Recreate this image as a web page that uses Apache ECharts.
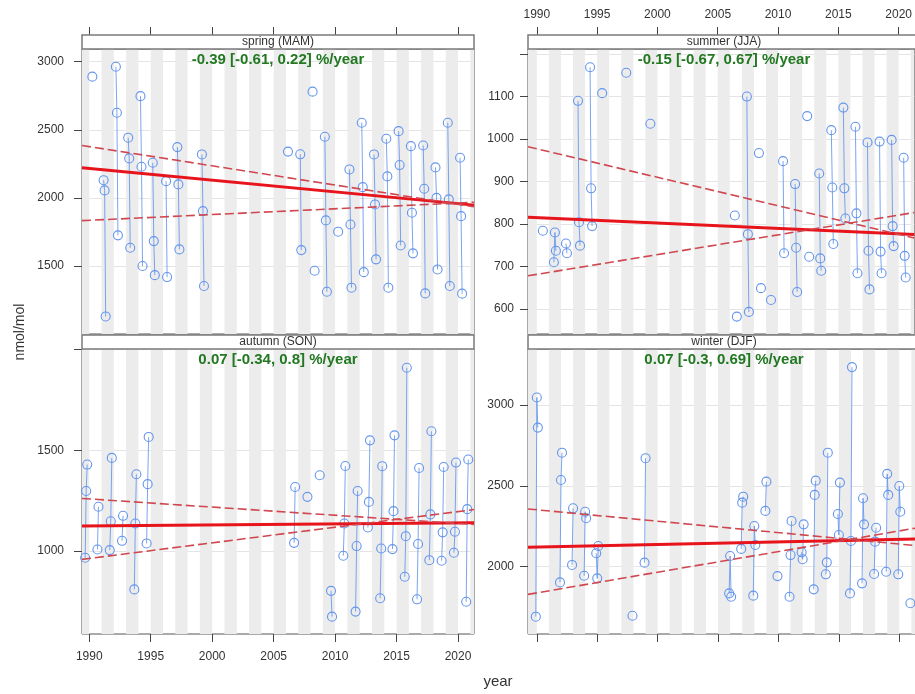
<!DOCTYPE html>
<html><head><meta charset="utf-8">
<script src="https://cdn.jsdelivr.net/npm/echarts@6/dist/echarts.min.js"></script>
<style>html,body{margin:0;padding:0;background:#fff}#c{width:915px;height:694px}</style>
</head><body><div id="c"></div>
<script>
// ---------- data ----------
const seasonNames = ['spring (MAM)', 'summer (JJA)', 'autumn (SON)', 'winter (DJF)'];
const trendTexts = ['-0.39 [-0.61, 0.22] %/year', '-0.15 [-0.67, 0.67] %/year', '0.07 [-0.34, 0.8] %/year', '0.07 [-0.3, 0.69] %/year'];
const xTickYears = [1990, 1995, 2000, 2005, 2010, 2015, 2020];
const stripeYears = [1989, 1991, 1993, 1995, 1997, 1999, 2001, 2003, 2005, 2007, 2009, 2011, 2013, 2015, 2017, 2019, 2021];

// month index (0 = Jan) of the three months of each season; -1 = December of previous year
const springMonths = [2, 3, 4];
const summerMonths = [5, 6, 7];
const autumnMonths = [8, 9, 10];
const winterMonths = [-1, 0, 1];

const springYears = [1990, 1991, 1992, 1993, 1994, 1995, 1996, 1997, 1999, 2006, 2007, 2008, 2009, 2010, 2011, 2012, 2013, 2014, 2015, 2016, 2017, 2018, 2019, 2020];
const springValues = [
  [null, 2890, null], [2130, 2055, 1130], [2963, 2625, 1725], [2442, 2290, 1634], [2747, 2229, 1500],
  [2258, 1683, 1433], [null, 2123, 1419], [2373, 2099, 1622], [2319, 1903, 1353], [2340, null, null],
  [2320, 1617, null], [2780, null, 1465], [2449, 1835, 1311], [null, 1752, null], [2209, 1805, 1341],
  [2552, 2079, 1455], [2319, 1952, 1549], [2434, 2158, 1341], [2490, 2241, 1651], [2380, 1891, 1593],
  [2385, 2067, 1299], [2224, 2000, 1475], [2552, 1989, 1353], [2295, 1866, 1297]
];

const summerYears = [1990, 1991, 1992, 1993, 1994, 1995, 1997, 1999, 2006, 2007, 2008, 2009, 2010, 2011, 2012, 2013, 2014, 2015, 2016, 2017, 2018, 2019, 2020];
const summerValues = [
  [null, 784, null], [710, 780, 737], [754, 731, null], [1090, 804, 749], [1169, 884, 795],
  [1108, null, null], [1156, null, null], [1036, null, null], [820, null, 582], [1100, 776, 593],
  [967, null, 649], [621, null, null], [948, 731, null], [894, 744, 640], [1054, null, 723],
  [919, 719, 690], [1021, 886, 753], [1074, 884, 813], [1029, 825, 684], [992, 737, 646],
  [994, 735, 684], [998, 795, 748], [956, 725, 674]
];

const autumnYears = [1989, 1990, 1991, 1992, 1993, 1994, 2006, 2007, 2008, 2009, 2010, 2011, 2012, 2013, 2014, 2015, 2016, 2017, 2018, 2019, 2020];
const autumnValues = [
  [967, 1298, 1429], [1008, 1220, null], [1005, 1148, 1462], [1051, 1175, null], [810, 1137, 1381],
  [1038, 1332, 1566], [1041, 1318, null], [null, 1269, null], [null, 1376, null], [803, 675, null],
  [977, 1137, 1422], [700, 1025, 1298], [1117, 1244, 1549], [766, 1013, 1421], [1010, 1198, 1574],
  [873, 1074, 1909], [761, 1035, 1412], [955, 1182, 1594], [952, 1093, 1417], [992, 1096, 1439],
  [749, 1208, 1454]
];

const winterYears = [1990, 1992, 1993, 1994, 1995, 1998, 1999, 2006, 2007, 2008, 2009, 2010, 2011, 2012, 2013, 2014, 2015, 2016, 2017, 2018, 2019, 2020, 2021];
const winterValues = [
  [1691, 3046, 2860], [1903, 2536, 2705], [2011, 2361, null], [1944, 2340, 2300], [2083, 1928, 2128],
  [1697, null, null], [2025, 2671, null], [1835, 2066, 1814], [2110, 2396, 2433], [1821, 2252, 2134],
  [2345, 2526, null], [1942, null, null], [1814, 2072, 2283], [2089, 2046, 2262], [1860, 2444, 2532],
  [1953, 2027, 2705], [2326, 2196, 2520], [1835, 2159, 3234], [1897, 2423, 2262], [1955, 2155, 2241],
  [1969, 2574, 2444], [1953, 2499, 2340], [1774, null, null]
];

// x ranges (decimal year) for left and right columns
const xRangeLeft = [1989.41, 2021.3];
const xRangeRight = [1989.27, 2021.3];

// y ranges and ticks
const springRange = [1001, 3093];
const summerRange = [541, 1212];
const autumnRange = [589, 2002];
const winterRange = [1584, 3346];
const springTicks = [1500, 2000, 2500, 3000];
const summerTicks = [600, 700, 800, 900, 1000, 1100, 1200];
const summerLabels = [600, 700, 800, 900, 1000, 1100];
const autumnTicks = [1000, 1500, 2000];
const autumnLabels = [1000, 1500];
const winterTicks = [2000, 2500, 3000];

// Theil-Sen trend lines: values at start / end of x range
const springTrendMid = [2222, 1947], springTrendUp = [2385, 1935], springTrendLo = [1833, 1968];
const summerTrendMid = [816, 775], summerTrendUp = [982, 767], summerTrendLo = [678, 827];
const autumnTrendMid = [1124, 1140], autumnTrendUp = [1261, 1132], autumnTrendLo = [959, 1206];
const winterTrendMid = [2120, 2171], winterTrendUp = [2357, 2131], winterTrendLo = [1829, 2238];

// ---------- build ----------
const FONT = 'Liberation Sans, Arial, sans-serif';
const BLUE = '#6495ED';
const plain = v => String(Math.round(v));

function buildPoints(years, values, months) {
  const out = [];
  years.forEach((y, i) => {
    values[i].forEach((v, k) => {
      out.push([y + months[k] / 12, v]);
    });
    out.push([y + 0.9, null]);
  });
  return out;
}
function stripes(range) {
  return stripeYears
    .map(y => [Math.max(y, range[0]), Math.min(y + 1, range[1])])
    .filter(p => p[1] > p[0])
    .map(p => [{ xAxis: p[0] }, { xAxis: p[1] }]);
}

const panels = [
  { years: springYears, values: springValues, months: springMonths, xr: xRangeLeft, yr: springRange, ticks: springTicks, labels: springTicks, tr: [springTrendMid, springTrendUp, springTrendLo] },
  { years: summerYears, values: summerValues, months: summerMonths, xr: xRangeRight, yr: summerRange, ticks: summerTicks, labels: summerLabels, tr: [summerTrendMid, summerTrendUp, summerTrendLo] },
  { years: autumnYears, values: autumnValues, months: autumnMonths, xr: xRangeLeft, yr: autumnRange, ticks: autumnTicks, labels: autumnLabels, tr: [autumnTrendMid, autumnTrendUp, autumnTrendLo] },
  { years: winterYears, values: winterValues, months: winterMonths, xr: xRangeRight, yr: winterRange, ticks: winterTicks, labels: winterTicks, tr: [winterTrendMid, winterTrendUp, winterTrendLo] }
];

const gridPos = [
  { left: 82, top: 49 }, { left: 528, top: 49 }, { left: 82, top: 349 }, { left: 528, top: 349 }
];

const grid = gridPos.map(p => ({
  left: p.left, top: p.top, width: 392, height: 285,
  show: true, borderColor: '#555', borderWidth: 1, backgroundColor: '#fff'
}));

const xAxis = panels.map((p, i) => ({
  type: 'value', gridIndex: i, min: p.xr[0], max: p.xr[1],
  position: i < 2 ? 'top' : 'bottom',
  offset: i < 2 ? 14 : 0,
  axisLine: { show: false },
  axisTick: { show: true, inside: false, length: 8, customValues: xTickYears, lineStyle: { color: '#444' } },
  axisLabel: {
    show: i === 1 || i === 2, customValues: xTickYears, margin: i < 2 ? 14 : 17,
    fontSize: 12, color: '#333', fontFamily: FONT, formatter: plain
  },
  splitLine: { show: false }
}));

const yAxis = panels.map((p, i) => ({
  type: 'value', gridIndex: i, min: p.yr[0], max: p.yr[1],
  axisLine: { show: false },
  axisTick: { show: true, inside: false, length: 8, customValues: p.ticks, lineStyle: { color: '#444' } },
  axisLabel: { customValues: p.labels, margin: i % 2 === 0 ? 18 : 14, fontSize: 12, color: '#333', fontFamily: FONT, formatter: plain },
  splitLine: { show: true, lineStyle: { color: '#e4e4e4', width: 1 } }
}));

const series = [];
panels.forEach((p, i) => {
  series.push({
    type: 'line', xAxisIndex: i, yAxisIndex: i,
    data: buildPoints(p.years, p.values, p.months),
    connectNulls: false, showAllSymbol: true,
    symbol: 'circle', symbolSize: 9,
    itemStyle: { color: 'rgba(255,255,255,0)', borderColor: BLUE, borderWidth: 1.1 },
    lineStyle: { color: BLUE, width: 1, opacity: 0.85 },
    z: 3,
    markArea: { silent: true, itemStyle: { color: '#ececec' }, data: stripes(p.xr), z: 1 }
  });
  const styles = [
    { color: '#e8141c', width: 3, type: 'solid' },
    { color: '#d0474f', width: 1.6, type: [9, 4] },
    { color: '#d0474f', width: 1.6, type: [9, 4] }
  ];
  p.tr.forEach((t, k) => {
    series.push({
      type: 'line', xAxisIndex: i, yAxisIndex: i,
      data: [[p.xr[0], t[0]], [p.xr[1], t[1]]],
      symbol: 'none', lineStyle: styles[k], z: 4, silent: true
    });
  });
});

const graphic = [];
gridPos.forEach((gp, i) => {
  const cx = gp.left + 196;
  graphic.push({
    type: 'rect', z: 10,
    shape: { x: gp.left, y: gp.top - 14, width: 392, height: 14 },
    style: { fill: '#fff', stroke: '#7a7a7a', lineWidth: 1.5 }
  });
  graphic.push({
    type: 'text', z: 11, x: cx, y: gp.top - 7,
    style: { text: seasonNames[i], x: 0, y: 0, align: 'center', verticalAlign: 'middle',
      textAlign: 'center', textVerticalAlign: 'middle', fontSize: 12, fontFamily: FONT, fill: '#333' }
  });
  graphic.push({
    type: 'text', z: 11, x: cx, y: gp.top + 10.5,
    style: { text: trendTexts[i], x: 0, y: 0, align: 'center', verticalAlign: 'middle',
      textAlign: 'center', textVerticalAlign: 'middle', fontSize: 15, fontWeight: 'bold', fontFamily: FONT, fill: '#217821' }
  });
});
graphic.push({
  type: 'text', x: 20, y: 332, rotation: Math.PI / 2,
  style: { text: 'nmol/mol', x: 0, y: 0, align: 'center', verticalAlign: 'middle',
    textAlign: 'center', textVerticalAlign: 'middle', fontSize: 14, fontFamily: FONT, fill: '#333' }
});
graphic.push({
  type: 'text', x: 498, y: 682,
  style: { text: 'year', x: 0, y: 0, align: 'center', verticalAlign: 'middle',
    textAlign: 'center', textVerticalAlign: 'middle', fontSize: 15, fontFamily: FONT, fill: '#333' }
});

const chart = echarts.init(document.getElementById('c'), null, { renderer: 'canvas' });
chart.setOption({
  animation: false,
  backgroundColor: '#fff',
  grid, xAxis, yAxis, series, graphic
});
</script>
</body></html>
